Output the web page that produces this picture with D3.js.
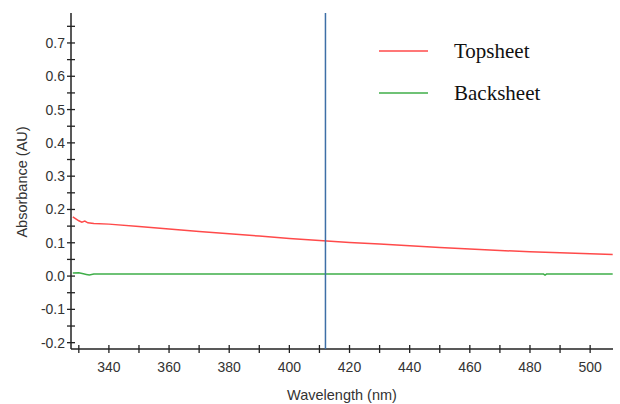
<!DOCTYPE html>
<html>
<head>
<meta charset="utf-8">
<style>
  body { margin: 0; background: #fff; }
  svg { font-family: Arial, 'Liberation Sans', sans-serif; }
  .tick-label { font-size: 14px; fill: #333; }
  .axis-title { font-size: 14.5px; fill: #333; }
  .legend-text { font-family: 'Liberation Serif', 'Times New Roman', serif; font-size: 21px; fill: #111; }
</style>
</head>
<body>
<svg width="620" height="404"></svg>
<script src="https://d3js.org/d3.v7.min.js"></script>
<script>
  // wavelengths (nm) and absorbance values
  let topWave = [328, 329, 330, 331, 332, 333, 335, 340, 350, 360, 370, 380, 390, 400, 410, 420, 430, 440, 450, 460, 470, 480, 490, 500, 507.5]
  let topAbs = [0.178, 0.172, 0.166, 0.162, 0.165, 0.160, 0.158, 0.156, 0.149, 0.141, 0.134, 0.127, 0.120, 0.113, 0.107, 0.101, 0.096, 0.091, 0.086, 0.081, 0.077, 0.073, 0.070, 0.067, 0.065]
  let backWave = [328, 330, 331.5, 332.5, 333.5, 335, 340, 400, 484.5, 485, 485.5, 507.5]
  let backAbs = [0.009, 0.010, 0.007, 0.005, 0.003, 0.006, 0.006, 0.006, 0.006, 0.003, 0.006, 0.006]
  let markerWave = 412
  let yLabels = [-0.2, -0.1, 0.0, 0.1, 0.2, 0.3, 0.4, 0.5, 0.6, 0.7]
  let xLabels = [340, 360, 380, 400, 420, 440, 460, 480, 500]
  let series = [
    { name: "Topsheet", wave: topWave, abs: topAbs, color: "#ff4a4a" },
    { name: "Backsheet", wave: backWave, abs: backAbs, color: "#3fae49" }
  ]

  let svg = d3.select("svg")
  let mLeft = 71, mRight = 613, mTop = 13, mBottom = 349

  let x = d3.scaleLinear().domain([327.4, 507.6]).range([mLeft, mRight])
  let y = d3.scaleLinear().domain([-0.219, 0.79]).range([mBottom, mTop])

  // minor ticks crossing the axes
  let yMinor = d3.range(-0.2, 0.76, 0.05)
  svg.selectAll(".ytick").data(yMinor).join("line")
    .attr("x1", mLeft - 4).attr("x2", mLeft + 4)
    .attr("y1", d => y(d)).attr("y2", d => y(d))
    .style("stroke", "#222").style("stroke-width", 1.3)

  let xMinor = d3.range(330, 501, 10)
  svg.selectAll(".xtick").data(xMinor).join("line")
    .attr("x1", d => x(d)).attr("x2", d => x(d))
    .attr("y1", mBottom - 4).attr("y2", mBottom + 4)
    .style("stroke", "#222").style("stroke-width", 1.3)

  svg.selectAll(".ylab").data(yLabels).join("text")
    .attr("class", "tick-label")
    .attr("x", mLeft - 6).attr("y", d => y(d) + 5)
    .attr("text-anchor", "end")
    .text(d => d.toFixed(1))

  svg.selectAll(".xlab").data(xLabels).join("text")
    .attr("class", "tick-label")
    .attr("x", d => x(d)).attr("y", mBottom + 23)
    .attr("text-anchor", "middle")
    .text(d => d)

  // axis lines
  svg.append("line").attr("x1", mLeft).attr("x2", mLeft).attr("y1", mTop).attr("y2", mBottom)
    .style("stroke", "#222").style("stroke-width", 1.5)
  svg.append("line").attr("x1", mLeft).attr("x2", mRight).attr("y1", mBottom).attr("y2", mBottom)
    .style("stroke", "#222").style("stroke-width", 1.5)

  // data lines
  let line = d3.line().x(d => x(d[0])).y(d => y(d[1]))
  series.forEach(s => {
    svg.append("path")
      .datum(d3.zip(s.wave, s.abs))
      .attr("d", line)
      .style("fill", "none")
      .style("stroke", s.color)
      .style("stroke-width", 1.5)
  })

  // cursor line
  svg.append("line")
    .attr("x1", x(markerWave)).attr("x2", x(markerWave))
    .attr("y1", mTop).attr("y2", mBottom)
    .style("stroke", "#3d6fa6").style("stroke-width", 1.5)

  // axis titles
  svg.append("text")
    .attr("class", "axis-title")
    .attr("x", (mLeft + mRight) / 2).attr("y", 400)
    .attr("text-anchor", "middle")
    .text("Wavelength (nm)")
  svg.append("text")
    .attr("class", "axis-title")
    .attr("transform", "translate(27,182) rotate(-90)")
    .attr("text-anchor", "middle")
    .text("Absorbance (AU)")

  // legend
  let legend = svg.selectAll(".legend").data(series).join("g")
    .attr("transform", (d, i) => "translate(379," + (51 + i * 42) + ")")
  legend.append("line").attr("x1", 0).attr("x2", 49)
    .style("stroke", d => d.color).style("stroke-width", 1.5)
  legend.append("text").attr("class", "legend-text")
    .attr("x", 75).attr("y", 7)
    .text(d => d.name)
</script>
</body>
</html>
